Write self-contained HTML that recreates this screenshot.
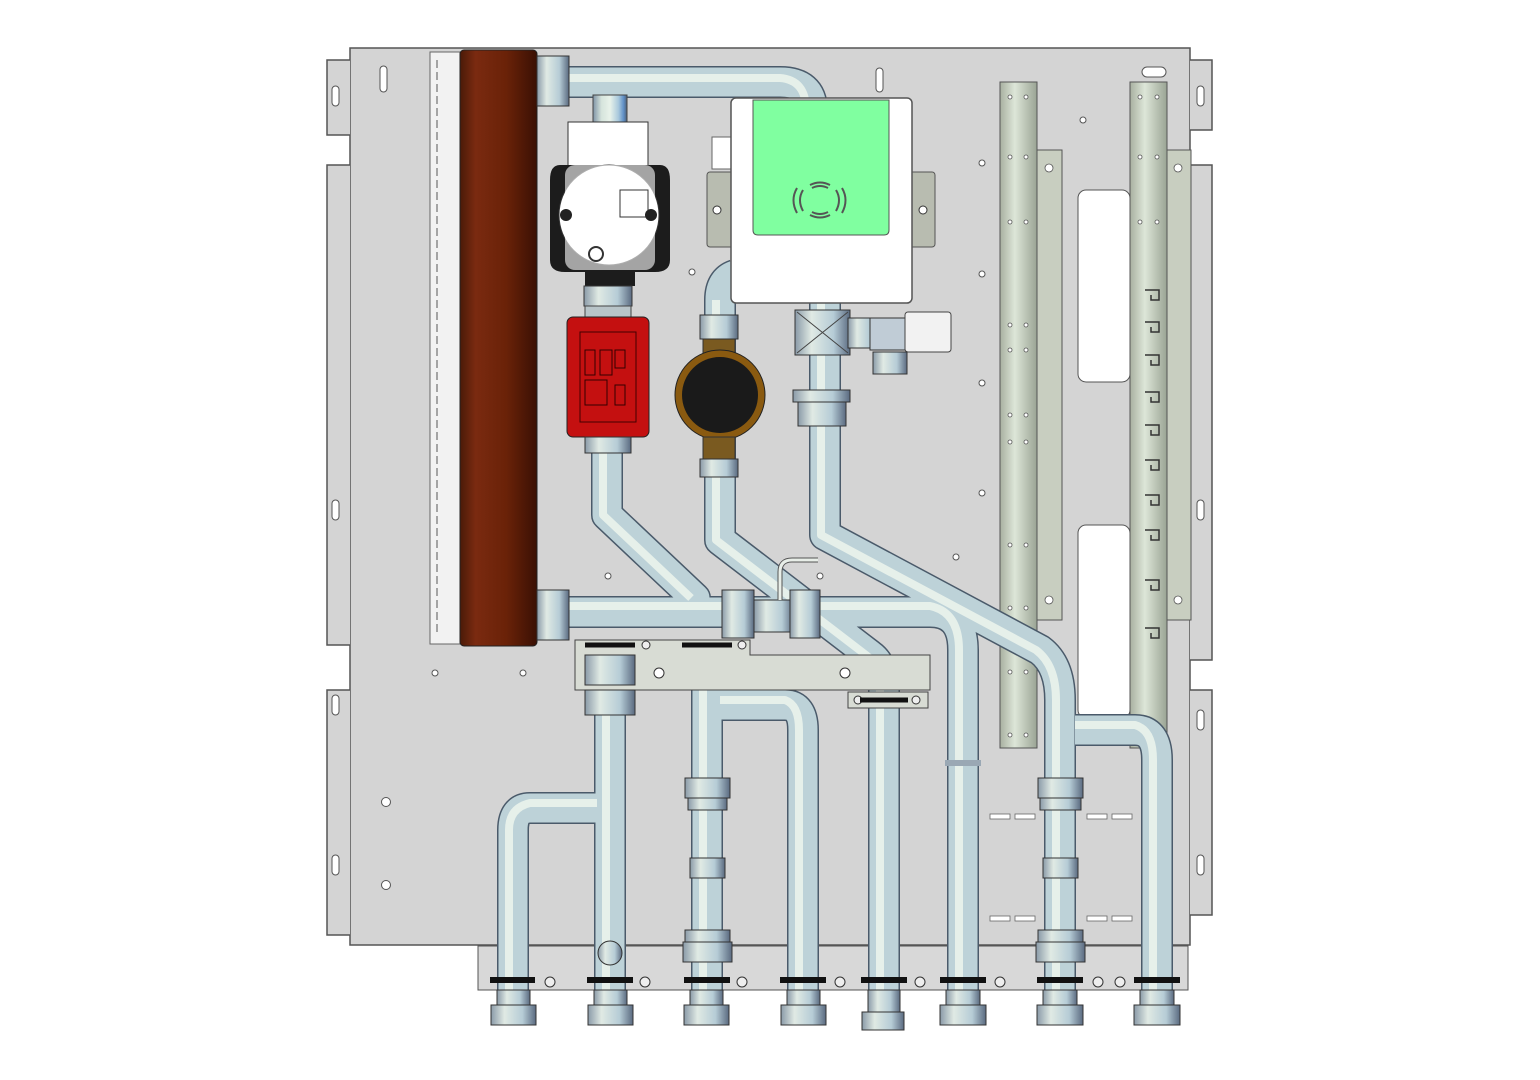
<!DOCTYPE html>
<html><head><meta charset="utf-8"><style>html,body{margin:0;padding:0;background:#fff;width:1540px;height:1080px;overflow:hidden}</style></head>
<body>
<svg width="1540" height="1080" viewBox="0 0 1540 1080" xmlns="http://www.w3.org/2000/svg">
<defs>
<linearGradient id="pv" x1="0" x2="1" y1="0" y2="0">
<stop offset="0" stop-color="#7f93a6"/><stop offset="0.25" stop-color="#d6e4dc"/><stop offset="0.5" stop-color="#e8f2ea"/><stop offset="0.75" stop-color="#a8c8dc"/><stop offset="0.9" stop-color="#5f8fc6"/><stop offset="1" stop-color="#4d6077"/></linearGradient>
<linearGradient id="ph" x1="0" x2="0" y1="0" y2="1">
<stop offset="0" stop-color="#7f93a6"/><stop offset="0.25" stop-color="#d6e4dc"/><stop offset="0.5" stop-color="#e8f2ea"/><stop offset="0.75" stop-color="#a8c8dc"/><stop offset="0.9" stop-color="#5f8fc6"/><stop offset="1" stop-color="#4d6077"/></linearGradient>
<linearGradient id="hx" x1="0" x2="1"><stop offset="0" stop-color="#4a1a08"/><stop offset="0.2" stop-color="#7a2a10"/><stop offset="0.6" stop-color="#6a2208"/><stop offset="1" stop-color="#3a1004"/></linearGradient>
<linearGradient id="rail" x1="0" x2="1"><stop offset="0" stop-color="#a8b0a0"/><stop offset="0.4" stop-color="#dde6d8"/><stop offset="1" stop-color="#9aa494"/></linearGradient>
<linearGradient id="nut" x1="0" x2="1"><stop offset="0" stop-color="#8a9aa8"/><stop offset="0.3" stop-color="#e0eae4"/><stop offset="0.7" stop-color="#b6ccd6"/><stop offset="1" stop-color="#5a6a80"/></linearGradient>
</defs>
<rect width="1540" height="1080" fill="#fff"/>
<!-- plate -->
<path d="M350 48 H1190 V945 H478 V945 H350 Z" fill="#d4d4d4" stroke="#555" stroke-width="1.5"/>
<path d="M350 60 H327 V135 H350 M350 165 H327 V645 H350 M350 690 H327 V935 H350" fill="#d4d4d4" stroke="#555" stroke-width="1.5"/>
<path d="M1190 60 H1212 V130 H1190 M1190 165 H1212 V660 H1190 M1190 690 H1212 V915 H1190" fill="#d4d4d4" stroke="#555" stroke-width="1.5"/>
<rect x="478" y="946" width="710" height="44" fill="#d8d8d8" stroke="#555"/>
<!-- holes -->
<g fill="#fff" stroke="#555">
<rect x="380" y="66" width="7" height="26" rx="3.5"/><rect x="876" y="68" width="7" height="24" rx="3.5"/>
<rect x="1142" y="67" width="24" height="10" rx="5"/>
<rect x="332" y="86" width="7" height="20" rx="3.5"/><rect x="1197" y="86" width="7" height="20" rx="3.5"/>
<rect x="332" y="500" width="7" height="20" rx="3.5"/><rect x="1197" y="500" width="7" height="20" rx="3.5"/>
<rect x="332" y="695" width="7" height="20" rx="3.5"/><rect x="1197" y="710" width="7" height="20" rx="3.5"/>
<rect x="332" y="855" width="7" height="20" rx="3.5"/><rect x="1197" y="855" width="7" height="20" rx="3.5"/>
<circle cx="386" cy="802" r="4.5"/><circle cx="386" cy="885" r="4.5"/>
<circle cx="1083" cy="120" r="3"/><circle cx="982" cy="163" r="3"/><circle cx="982" cy="274" r="3"/><circle cx="982" cy="383" r="3"/><circle cx="982" cy="493" r="3"/><circle cx="956" cy="557" r="3"/><circle cx="692" cy="272" r="3"/><circle cx="608" cy="576" r="3"/><circle cx="820" cy="576" r="3"/><circle cx="435" cy="673" r="3"/><circle cx="523" cy="673" r="3"/>
<rect x="1078" y="190" width="52" height="192" rx="8"/><rect x="1078" y="525" width="52" height="193" rx="8"/>
</g>
<g fill="#fff" stroke="#666" stroke-width="0.8">
<rect x="990" y="814" width="20" height="5"/><rect x="1015" y="814" width="20" height="5"/><rect x="1087" y="814" width="20" height="5"/><rect x="1112" y="814" width="20" height="5"/>
<rect x="990" y="916" width="20" height="5"/><rect x="1015" y="916" width="20" height="5"/><rect x="1087" y="916" width="20" height="5"/><rect x="1112" y="916" width="20" height="5"/>
</g>
<!-- left strip -->
<rect x="430" y="52" width="30" height="592" fill="#f2f2f2" stroke="#666"/>
<line x1="437" y1="60" x2="437" y2="635" stroke="#555" stroke-dasharray="8 4"/>
<!-- heat exchanger -->
<rect x="460" y="50" width="77" height="596" rx="4" fill="url(#hx)" stroke="#222"/>
<!-- rails -->
<rect x="1037" y="150" width="25" height="470" fill="#c8cec0" stroke="#555"/>
<rect x="1166" y="150" width="25" height="470" fill="#c8cec0" stroke="#555"/>
<rect x="1000" y="82" width="37" height="666" fill="url(#rail)" stroke="#555"/>
<rect x="1130" y="82" width="37" height="666" fill="url(#rail)" stroke="#555"/>
<g fill="#fff" stroke="#555" stroke-width="0.8">
<circle cx="1010" cy="97" r="2"/><circle cx="1026" cy="97" r="2"/><circle cx="1010" cy="157" r="2"/><circle cx="1026" cy="157" r="2"/><circle cx="1010" cy="222" r="2"/><circle cx="1026" cy="222" r="2"/><circle cx="1010" cy="325" r="2"/><circle cx="1026" cy="325" r="2"/><circle cx="1010" cy="350" r="2"/><circle cx="1026" cy="350" r="2"/><circle cx="1010" cy="415" r="2"/><circle cx="1026" cy="415" r="2"/><circle cx="1010" cy="442" r="2"/><circle cx="1026" cy="442" r="2"/><circle cx="1010" cy="545" r="2"/><circle cx="1026" cy="545" r="2"/><circle cx="1010" cy="608" r="2"/><circle cx="1026" cy="608" r="2"/><circle cx="1010" cy="672" r="2"/><circle cx="1026" cy="672" r="2"/><circle cx="1010" cy="735" r="2"/><circle cx="1026" cy="735" r="2"/>
<circle cx="1140" cy="97" r="2"/><circle cx="1157" cy="97" r="2"/><circle cx="1140" cy="157" r="2"/><circle cx="1157" cy="157" r="2"/><circle cx="1140" cy="222" r="2"/><circle cx="1157" cy="222" r="2"/><circle cx="1140" cy="735" r="2"/><circle cx="1157" cy="735" r="2"/>
<circle cx="1049" cy="168" r="4"/><circle cx="1049" cy="600" r="4"/><circle cx="1178" cy="168" r="4"/><circle cx="1178" cy="600" r="4"/>
</g>
<g fill="none" stroke="#333" stroke-width="1.5">
<path d="M1145 290 h14 v10 h-8 v-5"/><path d="M1145 322 h14 v10 h-8 v-5"/><path d="M1145 355 h14 v10 h-8 v-5"/><path d="M1145 392 h14 v10 h-8 v-5"/><path d="M1145 425 h14 v10 h-8 v-5"/><path d="M1145 460 h14 v10 h-8 v-5"/><path d="M1145 495 h14 v10 h-8 v-5"/><path d="M1145 530 h14 v10 h-8 v-5"/><path d="M1145 580 h14 v10 h-8 v-5"/><path d="M1145 628 h14 v10 h-8 v-5"/>
</g>
<!-- bent pipes underlay -->
<g fill="none" stroke-linejoin="round">
<g stroke="#4a5a6a" stroke-width="32">
<path d="M545 82 H780 Q812 82 812 110"/>
<path d="M607 440 V515 L695 598 V612"/>
<path d="M720 300 Q720 280 735 275 M720 300 V540 L870 655 Q884 665 884 690 V1000"/>
<path d="M825 300 V535 L1040 650 Q1060 665 1060 700 V1000"/>
<path d="M560 612 H930 Q963 612 963 650 V1000"/>
<path d="M707 640 V1000"/><path d="M720 705 H785 Q803 705 803 730 V1000"/>
<path d="M610 640 V1000"/><path d="M597 808 H530 Q513 808 513 830 V1000"/>
<path d="M1075 730 H1135 Q1157 730 1157 760 V1000"/>
</g>
<g stroke="#bdd2d8" stroke-width="29">
<path d="M545 82 H780 Q812 82 812 110"/>
<path d="M607 440 V515 L695 598 V612"/>
<path d="M720 300 Q720 280 735 275 M720 300 V540 L870 655 Q884 665 884 690 V1000"/>
<path d="M825 300 V535 L1040 650 Q1060 665 1060 700 V1000"/>
<path d="M560 612 H930 Q963 612 963 650 V1000"/>
<path d="M707 640 V1000"/><path d="M720 705 H785 Q803 705 803 730 V1000"/>
<path d="M610 640 V1000"/><path d="M597 808 H530 Q513 808 513 830 V1000"/>
<path d="M1075 730 H1135 Q1157 730 1157 760 V1000"/>
</g>
<g stroke="#e6f0ea" stroke-width="8">
<path d="M545 78 H780 Q806 80 806 110"/>
<path d="M603 440 V515 L691 598"/>
<path d="M716 300 V540 L866 655 Q880 665 880 690 V1000"/>
<path d="M821 300 V535 L1036 650 Q1056 665 1056 700 V1000"/>
<path d="M560 606 H930 Q959 612 959 650 V1000"/>
<path d="M703 640 V1000"/><path d="M720 700 H785 Q799 705 799 730 V1000"/>
<path d="M606 640 V1000"/><path d="M597 803 H530 Q509 808 509 830 V1000"/>
<path d="M1075 725 H1135 Q1153 730 1153 760 V1000"/>
</g>
</g>
<!-- top short pipe to pump -->
<rect x="593" y="95" width="34" height="30" fill="url(#pv)" stroke="#444"/>
<!-- top fittings on HX -->
<rect x="537" y="56" width="32" height="50" fill="url(#nut)" stroke="#333"/>
<rect x="537" y="590" width="32" height="50" fill="url(#nut)" stroke="#333"/>
<!-- white box & green display -->
<rect x="707" y="172" width="30" height="75" rx="3" fill="#b8bcb0" stroke="#555"/><circle cx="717" cy="210" r="4" fill="#fff" stroke="#333"/>
<rect x="905" y="172" width="30" height="75" rx="3" fill="#b8bcb0" stroke="#555"/><circle cx="923" cy="210" r="4" fill="#fff" stroke="#333"/>
<rect x="712" y="137" width="20" height="32" fill="#fff" stroke="#666"/>
<rect x="731" y="98" width="181" height="205" rx="5" fill="#fff" stroke="#555" stroke-width="1.5"/>
<path d="M753 100 H889 V230 Q889 235 884 235 H758 Q753 235 753 230 Z" fill="#80ffa0" stroke="#555"/>
<g fill="none" stroke="#555" stroke-width="2">
<path d="M797 188 Q790 200 797 213"/><path d="M803 190 Q797 200 803 211"/>
<path d="M842 188 Q849 200 842 213"/><path d="M836 190 Q842 200 836 211"/>
<path d="M810 185 Q820 180 830 185"/><path d="M810 215 Q820 220 830 215"/>
<path d="M812 188 Q820 184 828 188"/><path d="M812 212 Q820 216 828 212"/>
</g>
<!-- pump top (white) -->
<rect x="568" y="122" width="80" height="60" fill="#fff" stroke="#333"/>
<path d="M560 165 H660 Q670 165 670 180 V260 Q670 272 655 272 H565 Q550 272 550 260 V180 Q550 165 560 165 Z" fill="#1c1c1c"/>
<circle cx="609" cy="215" r="50" fill="#fff" stroke="#333"/>
<rect x="565" y="165" width="90" height="105" rx="10" fill="#fff" opacity="0.6"/>
<rect x="620" y="190" width="28" height="27" fill="#fff" stroke="#333"/>
<circle cx="566" cy="215" r="6" fill="#222"/><circle cx="651" cy="215" r="6" fill="#222"/>
<circle cx="596" cy="254" r="7" fill="none" stroke="#333" stroke-width="2"/>
<rect x="585" y="272" width="50" height="14" fill="#1c1c1c"/>
<rect x="584" y="286" width="48" height="20" fill="url(#nut)" stroke="#333"/>
<rect x="585" y="306" width="46" height="12" fill="#b8c4c8" stroke="#444"/>
<!-- red pump -->
<rect x="567" y="317" width="82" height="120" rx="6" fill="#c41010" stroke="#222"/>
<rect x="580" y="332" width="56" height="90" fill="none" stroke="#400" />
<g fill="none" stroke="#300"><rect x="585" y="350" width="10" height="25"/><rect x="600" y="350" width="12" height="25"/><rect x="615" y="350" width="10" height="18"/><rect x="585" y="380" width="22" height="25"/><rect x="615" y="385" width="10" height="20"/></g>
<rect x="585" y="437" width="46" height="16" fill="url(#nut)" stroke="#333"/>
<!-- brown meter -->
<rect x="700" y="315" width="38" height="24" fill="url(#nut)" stroke="#333"/>
<rect x="703" y="339" width="32" height="16" fill="#7a5a20" stroke="#333"/>
<circle cx="720" cy="395" r="45" fill="#8a5a10" stroke="#222"/>
<circle cx="720" cy="395" r="38" fill="#1a1a1a"/>
<rect x="703" y="437" width="32" height="22" fill="#7a5a20" stroke="#333"/>
<rect x="700" y="459" width="38" height="18" fill="url(#nut)" stroke="#333"/>
<!-- right valve -->
<rect x="795" y="310" width="55" height="45" fill="url(#nut)" stroke="#333"/>
<path d="M797 312 L848 353 M848 312 L797 353" stroke="#444" fill="none"/>
<rect x="848" y="318" width="30" height="30" fill="url(#nut)" stroke="#333"/>
<rect x="870" y="318" width="40" height="32" fill="#c0ccd6" stroke="#333"/>
<rect x="905" y="312" width="46" height="40" rx="3" fill="#f2f2f2" stroke="#444"/>
<rect x="873" y="352" width="34" height="22" fill="url(#nut)" stroke="#333"/>
<rect x="793" y="390" width="57" height="12" fill="url(#nut)" stroke="#333"/>
<rect x="798" y="402" width="48" height="24" fill="url(#nut)" stroke="#333"/>
<!-- manifold fittings -->
<rect x="722" y="590" width="32" height="48" fill="url(#nut)" stroke="#333"/>
<rect x="754" y="600" width="40" height="32" fill="url(#nut)" stroke="#333"/>
<rect x="790" y="590" width="30" height="48" fill="url(#nut)" stroke="#333"/>
<path d="M780 600 V572 Q780 560 792 560 H818" fill="none" stroke="#555" stroke-width="5"/>
<path d="M780 600 V572 Q780 560 792 560 H818" fill="none" stroke="#e8eee8" stroke-width="3"/>
<!-- bracket -->
<path d="M575 640 H750 V655 H930 V690 H575 Z" fill="#d8dcd4" stroke="#444"/>
<rect x="848" y="692" width="80" height="16" fill="#d8dcd4" stroke="#444"/>
<circle cx="845" cy="673" r="5" fill="#fff" stroke="#333"/><circle cx="659" cy="673" r="5" fill="#fff" stroke="#333"/>
<circle cx="646" cy="645" r="4" fill="#eee" stroke="#333"/><circle cx="742" cy="645" r="4" fill="#eee" stroke="#333"/><circle cx="858" cy="700" r="4" fill="#eee" stroke="#333"/><circle cx="916" cy="700" r="4" fill="#eee" stroke="#333"/>
<g stroke="#111" stroke-width="5"><line x1="585" y1="645" x2="635" y2="645"/><line x1="682" y1="645" x2="732" y2="645"/><line x1="860" y1="700" x2="908" y2="700"/></g>
<!-- fittings on vertical pipes -->
<g fill="url(#nut)" stroke="#333">
<rect x="585" y="655" width="50" height="30"/><rect x="585" y="690" width="50" height="25"/>
<rect x="685" y="778" width="45" height="20"/><rect x="688" y="798" width="39" height="12"/>
<rect x="690" y="858" width="35" height="20"/>
<rect x="685" y="930" width="45" height="12"/><rect x="683" y="942" width="49" height="20"/>
<rect x="1038" y="778" width="45" height="20"/><rect x="1040" y="798" width="41" height="12"/>
<rect x="1043" y="858" width="35" height="20"/>
<rect x="1038" y="930" width="45" height="12"/><rect x="1036" y="942" width="49" height="20"/>
</g>
<circle cx="610" cy="953" r="12" fill="url(#nut)" stroke="#333"/>
<rect x="945" y="760" width="36" height="6" fill="#9aa8b4"/>
<!-- bottom bar and rings -->
<g stroke="#111" stroke-width="6">
<line x1="490" y1="980" x2="535" y2="980"/><line x1="587" y1="980" x2="633" y2="980"/><line x1="684" y1="980" x2="730" y2="980"/><line x1="780" y1="980" x2="826" y2="980"/><line x1="861" y1="980" x2="907" y2="980"/><line x1="940" y1="980" x2="986" y2="980"/><line x1="1037" y1="980" x2="1083" y2="980"/><line x1="1134" y1="980" x2="1180" y2="980"/>
</g>
<g fill="#eee" stroke="#333"><circle cx="550" cy="982" r="5"/><circle cx="645" cy="982" r="5"/><circle cx="742" cy="982" r="5"/><circle cx="840" cy="982" r="5"/><circle cx="920" cy="982" r="5"/><circle cx="1000" cy="982" r="5"/><circle cx="1098" cy="982" r="5"/><circle cx="1120" cy="982" r="5"/></g>
<g fill="url(#nut)" stroke="#333">
<rect x="491" y="1005" width="45" height="20"/><rect x="588" y="1005" width="45" height="20"/><rect x="684" y="1005" width="45" height="20"/><rect x="781" y="1005" width="45" height="20"/><rect x="862" y="1012" width="42" height="18"/><rect x="940" y="1005" width="46" height="20"/><rect x="1037" y="1005" width="46" height="20"/><rect x="1134" y="1005" width="46" height="20"/>
<rect x="497" y="990" width="33" height="15"/><rect x="594" y="990" width="33" height="15"/><rect x="690" y="990" width="33" height="15"/><rect x="787" y="990" width="33" height="15"/><rect x="868" y="990" width="32" height="22"/><rect x="946" y="990" width="34" height="15"/><rect x="1043" y="990" width="34" height="15"/><rect x="1140" y="990" width="34" height="15"/>
</g>
</svg>
</body></html>
